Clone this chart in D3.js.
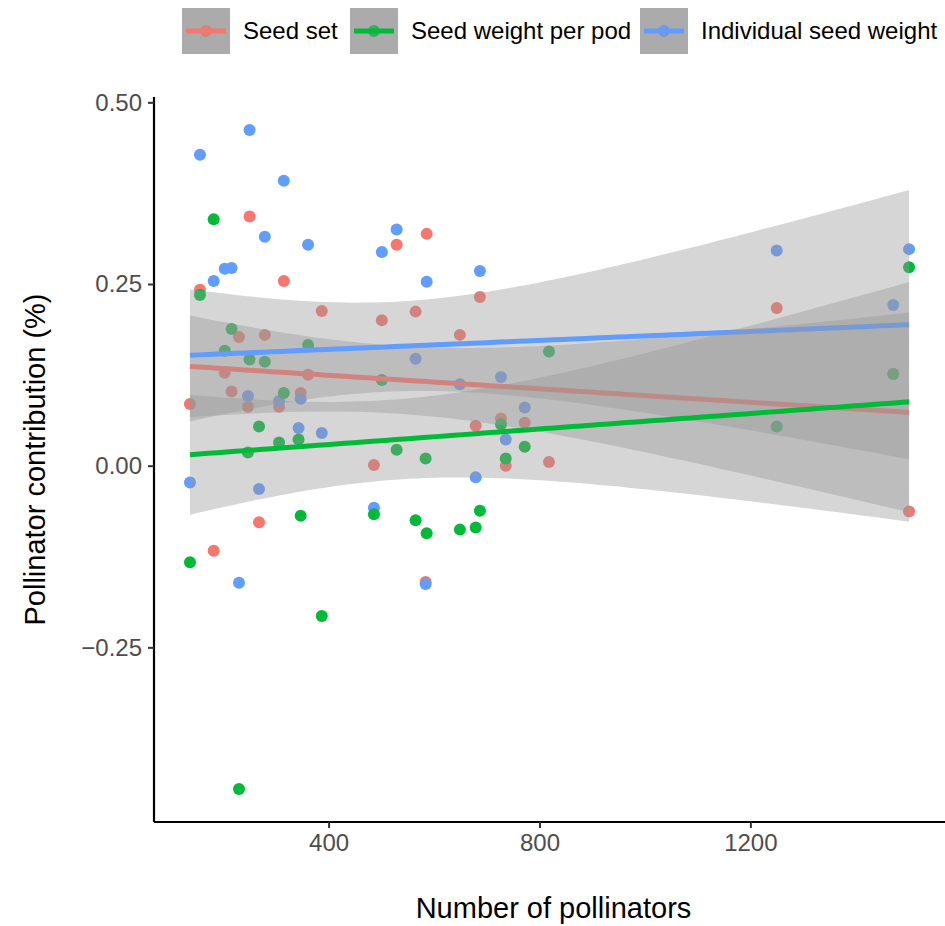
<!DOCTYPE html>
<html>
<head>
<meta charset="utf-8">
<script src="https://cdn.jsdelivr.net/npm/d3@7"></script>
<style>
  body { margin: 0; background: #fff; }
  text { font-family: "Liberation Sans", Arial, Helvetica, sans-serif; }
</style>
</head>
<body>
<div class="chart"></div>
<script>
// number of pollinators per site
var pollinators = [137, 156, 182, 203, 216, 230, 247, 250, 268, 279, 306, 315, 343, 347, 361, 387,
                   486, 501, 529, 565, 584, 586, 649, 679, 687, 727, 736, 772, 818, 1250, 1471, 1501];

// pollinator contribution, one value per site (null = not visible)
var seedSet = [0.085, 0.242, -0.117, 0.128, 0.102, 0.177, 0.081, 0.343, -0.078, 0.180, 0.081, 0.254, null, 0.100, 0.125, 0.213,
               0.001, 0.200, 0.304, 0.212, -0.160, 0.319, 0.180, 0.055, 0.232, 0.065, 0.000, 0.059, 0.005, 0.217, 0.126, -0.063];
var seedWeightPod = [-0.133, 0.235, 0.339, 0.158, 0.188, -0.445, 0.018, 0.146, 0.054, 0.143, 0.032, 0.100, 0.036, -0.069, 0.166, -0.207,
                     -0.067, 0.118, 0.022, -0.075, 0.010, -0.093, -0.088, -0.085, -0.062, 0.057, 0.010, 0.026, 0.157, 0.054, 0.126, 0.273];
var individualSeedWeight = [-0.023, 0.428, 0.254, 0.271, 0.272, -0.161, 0.096, 0.462, -0.032, 0.315, 0.089, 0.392, 0.052, 0.092, 0.304, 0.045,
                            -0.058, 0.294, 0.325, 0.147, -0.163, 0.253, 0.112, -0.016, 0.268, 0.122, 0.036, 0.080, null, 0.296, 0.221, 0.298];

var seriesNames = ["Seed set", "Seed weight per pod", "Individual seed weight"];
var seriesColors = ["#F8766D", "#00BA38", "#619CFF"];
var xTicks = [400, 800, 1200];
var yTicks = [-0.25, 0, 0.25, 0.50];

var width = 945, height = 926;
var margin = { top: 97, right: 0, bottom: 104, left: 154 };
var pw = width - margin.left - margin.right,
    ph = height - margin.top - margin.bottom;

var series = [
    { name: seriesNames[0], color: seriesColors[0], values: seedSet },
    { name: seriesNames[1], color: seriesColors[1], values: seedWeightPod },
    { name: seriesNames[2], color: seriesColors[2], values: individualSeedWeight }
];
// layer order as in the picture: red, then blue, then green on top
var drawOrder = [0, 2, 1];

function pointsOf(s) {
    var pts = [];
    s.values.forEach(function (v, i) {
        if (v !== null) pts.push({ x: pollinators[i], y: v });
    });
    return pts;
}

// t quantile (0.975) approximation
function qt975(df) {
    var z = 1.959964;
    return z + (Math.pow(z, 3) + z) / (4 * df) +
        (5 * Math.pow(z, 5) + 16 * Math.pow(z, 3) + 3 * z) / (96 * df * df);
}

// linear model with 95% confidence band, like geom_smooth(method = "lm")
function fitLm(pts) {
    var n = pts.length;
    var mx = d3.mean(pts, function (d) { return d.x; });
    var my = d3.mean(pts, function (d) { return d.y; });
    var sxx = d3.sum(pts, function (d) { return (d.x - mx) * (d.x - mx); });
    var sxy = d3.sum(pts, function (d) { return (d.x - mx) * (d.y - my); });
    var b = sxy / sxx, a = my - b * mx;
    var rss = d3.sum(pts, function (d) { var r = d.y - (a + b * d.x); return r * r; });
    var s = Math.sqrt(rss / (n - 2));
    var t = qt975(n - 2);
    var ext = d3.extent(pts, function (d) { return d.x; });
    var out = [];
    for (var k = 0; k < 80; k++) {
        var x0 = ext[0] + (ext[1] - ext[0]) * k / 79;
        var fit = a + b * x0;
        var se = s * Math.sqrt(1 / n + (x0 - mx) * (x0 - mx) / sxx);
        out.push({ x: x0, y: fit, lo: fit - t * se, hi: fit + t * se });
    }
    return out;
}

var allY = [].concat(seedSet, seedWeightPod, individualSeedWeight).filter(function (v) { return v !== null; });
var xExt = d3.extent(pollinators), yExt = d3.extent(allY);
var xPad = (xExt[1] - xExt[0]) * 0.05, yPad = (yExt[1] - yExt[0]) * 0.05;

var x = d3.scaleLinear().domain([xExt[0] - xPad, xExt[1] + xPad]).range([0, pw]);
var y = d3.scaleLinear().domain([yExt[0] - yPad, yExt[1] + yPad]).range([ph, 0]);

var svg = d3.select(".chart")
    .append("svg")
    .attr("width", width)
    .attr("height", height);

var g = svg.append("g")
    .attr("transform", "translate(" + margin.left + "," + margin.top + ")");

// points
drawOrder.forEach(function (i) {
    g.append("g").selectAll("circle")
        .data(pointsOf(series[i]))
        .enter()
        .append("circle")
        .attr("cx", function (d) { return x(d.x); })
        .attr("cy", function (d) { return y(d.y); })
        .attr("r", 6)
        .style("fill", series[i].color);
});

// smooths: ribbon then line for each group
var area = d3.area()
    .x(function (d) { return x(d.x); })
    .y0(function (d) { return y(d.lo); })
    .y1(function (d) { return y(d.hi); });
var line = d3.line()
    .x(function (d) { return x(d.x); })
    .y(function (d) { return y(d.y); });

drawOrder.forEach(function (i) {
    var fit = fitLm(pointsOf(series[i]));
    g.append("path")
        .attr("d", area(fit))
        .style("fill", "#999999")
        .style("fill-opacity", 0.4);
    g.append("path")
        .attr("d", line(fit))
        .style("fill", "none")
        .style("stroke", series[i].color)
        .style("stroke-width", 5);
});

// axes
var xAxis = g.append("g")
    .attr("transform", "translate(0," + ph + ")")
    .call(d3.axisBottom(x).tickValues(xTicks).tickSize(6).tickPadding(6).tickFormat(d3.format("d")));
var yAxis = g.append("g")
    .call(d3.axisLeft(y).tickValues(yTicks).tickSize(6).tickPadding(6).tickFormat(d3.format(".2f")));

[xAxis, yAxis].forEach(function (ax) {
    ax.select(".domain").attr("stroke", "#000").attr("stroke-width", 2.2);
    ax.selectAll(".tick line").attr("stroke", "#333").attr("stroke-width", 2);
    ax.selectAll(".tick text")
        .attr("fill", "#4D4D4D")
        .style("font-size", "24px")
        .style("font-family", "'Liberation Sans', Arial, Helvetica, sans-serif");
});
xAxis.select(".domain").attr("d", "M0,0H" + pw);
yAxis.select(".domain").attr("d", "M0,0V" + ph);

// axis titles
svg.append("text")
    .attr("x", margin.left + pw / 2 + 4)
    .attr("y", 918)
    .attr("text-anchor", "middle")
    .style("font-size", "29px")
    .text("Number of pollinators");

svg.append("text")
    .attr("transform", "translate(45," + (margin.top + ph / 2) + ") rotate(-90)")
    .attr("text-anchor", "middle")
    .style("font-size", "29px")
    .text("Pollinator contribution (%)");

// legend
var keyX = [182, 350, 640];
series.forEach(function (s, i) {
    var lg = svg.append("g").attr("transform", "translate(" + keyX[i] + ",8)");
    lg.append("rect").attr("width", 48).attr("height", 46).style("fill", "#b8b8b8");
    lg.append("circle").attr("cx", 24).attr("cy", 23).attr("r", 6).style("fill", s.color);
    lg.append("rect").attr("width", 48).attr("height", 46).style("fill", "#999999").style("fill-opacity", 0.4);
    lg.append("line")
        .attr("x1", 4).attr("x2", 44).attr("y1", 23).attr("y2", 23)
        .style("stroke", s.color).style("stroke-width", 5);
    lg.append("text")
        .attr("x", 61).attr("y", 31)
        .style("font-size", "24px")
        .text(s.name);
});
</script>
</body>
</html>
